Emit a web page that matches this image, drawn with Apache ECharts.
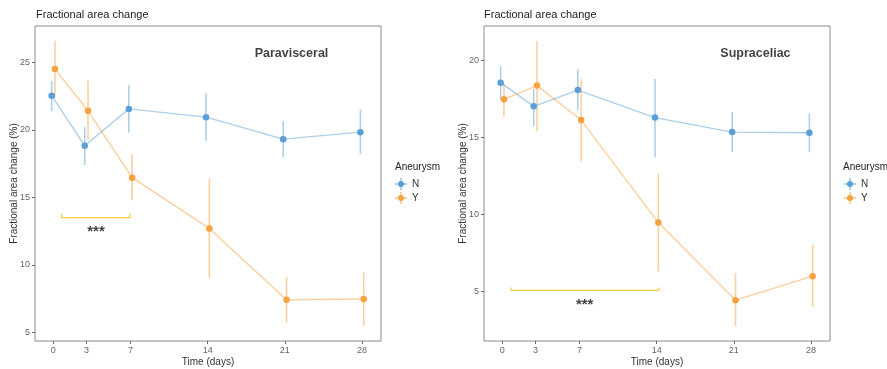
<!DOCTYPE html>
<html>
<head>
<meta charset="utf-8">
<script src="https://cdn.jsdelivr.net/npm/echarts@6/dist/echarts.min.js"></script>
<style>
  html, body { margin: 0; padding: 0; background: #ffffff; }
  #chart { width: 887px; height: 369px; }
</style>
</head>
<body>
<div id="chart"></div>
<script>
// Time points (days)
const days = [0, 3, 7, 14, 21, 28];
const dayTicks = [0, 3, 7, 14, 21, 28];

// Paravisceral: mean and error-bar limits per group
const paraN   = [22.53, 18.82, 21.55, 20.94, 19.31, 19.83];
const paraNLo = [21.40, 17.40, 19.80, 19.20, 17.98, 18.22];
const paraNHi = [23.60, 20.20, 23.30, 22.70, 20.64, 21.50];
const paraY   = [24.50, 21.41, 16.46, 12.70, 7.41, 7.47];
const paraYLo = [22.40, 19.24, 14.78, 9.04, 5.71, 5.47];
const paraYHi = [26.60, 23.65, 18.19, 16.36, 9.10, 9.44];

// Supraceliac: mean and error-bar limits per group
const supraN   = [18.57, 17.03, 18.09, 16.30, 15.36, 15.32];
const supraNLo = [17.49, 15.73, 16.77, 13.73, 14.06, 14.06];
const supraNHi = [19.65, 18.18, 19.44, 18.80, 16.66, 16.56];
const supraY   = [17.49, 18.38, 16.14, 9.48, 4.44, 6.00];
const supraYLo = [16.36, 15.43, 13.46, 6.30, 2.76, 4.00];
const supraYHi = [18.50, 21.27, 18.79, 12.66, 6.21, 8.05];

// Y tick labels per panel
const paraTicks = [5, 10, 15, 20, 25];
const supraTicks = [5, 10, 15, 20];

// Significance brackets: [start day, end day, bar level, tick top], label position [day, value]
const paraBracket = [0.76, 6.96, 13.5, 13.8];
const paraStars = [3.87, 12.55];
const supraBracket = [0.78, 14.2, 5.08, 5.26];
const supraStars = [7.47, 4.18];

// Panel headings placed in data coordinates
const paraHeading = [21.6, 25.67, 'Paravisceral'];
const supraHeading = [22.96, 20.45, 'Supraceliac'];

const groups = ['N', 'Y'];
const DODGE = 0.15;
const BLUE = '#5b9fd8';
const ORANGE = '#f7a23e';
const BLUE_SOFT = 'rgba(91,159,216,0.5)';
const ORANGE_SOFT = 'rgba(247,162,62,0.5)';
const FONT = '"Liberation Sans", Arial, sans-serif';

function pts(vals, off) { return days.map((d, i) => [d + off, vals[i]]); }
function bars(lo, hi, off) { return days.map((d, i) => [d + off, lo[i], hi[i]]); }

function errorSeries(idx, data, color) {
  return {
    type: 'custom', xAxisIndex: idx, yAxisIndex: idx, silent: true, z: 2,
    data: data,
    encode: { x: 0, y: [1, 2] },
    renderItem: function (params, api) {
      const a = api.coord([api.value(0), api.value(1)]);
      const b = api.coord([api.value(0), api.value(2)]);
      return { type: 'line', shape: { x1: a[0], y1: a[1], x2: b[0], y2: b[1] },
               style: { stroke: color, lineWidth: 1.6 } };
    }
  };
}
function lineSeries(idx, name, data, color, soft) {
  return {
    type: 'line', name: name, xAxisIndex: idx, yAxisIndex: idx, z: 3,
    data: data, symbol: 'circle', symbolSize: 6.5, showSymbol: true,
    itemStyle: { color: color, opacity: 1 },
    lineStyle: { color: soft, width: 1.4 },
    emphasis: { disabled: true }
  };
}
function bracketSeries(idx, br) {
  return {
    type: 'line', xAxisIndex: idx, yAxisIndex: idx, symbol: 'none', silent: true, z: 1,
    data: [[br[0], br[3]], [br[0], br[2]], [br[1], br[2]], [br[1], br[3]]],
    lineStyle: { color: '#f8c93f', width: 1.2 }
  };
}
function textSeries(idx, pos, text, size, weight, offset) {
  return {
    type: 'scatter', xAxisIndex: idx, yAxisIndex: idx, symbolSize: 0, silent: true,
    data: [[pos[0], pos[1]]],
    label: { show: true, position: 'inside', formatter: text, color: '#111',
             fontFamily: FONT, fontSize: size, fontWeight: weight, offset: offset || [0, 0] }
  };
}

function xAxis(idx) {
  return {
    type: 'value', gridIndex: idx, min: -1.66, max: 29.72,
    name: 'Time (days)', nameLocation: 'middle', nameGap: 16, nameMoveOverlap: false,
    nameTextStyle: { color: '#333', fontSize: 10, fontFamily: FONT },
    axisLine: { show: false, onZero: false },
    axisTick: { show: true, length: 3, customValues: dayTicks, lineStyle: { color: '#666' } },
    axisLabel: { customValues: dayTicks, color: '#666', fontSize: 9, margin: 5, fontFamily: FONT },
    splitLine: { show: false }
  };
}
function yAxis(idx, min, max, ticks) {
  return {
    type: 'value', gridIndex: idx, min: min, max: max,
    name: 'Fractional area change (%)', nameLocation: 'middle', nameGap: 16, nameMoveOverlap: false,
    nameTextStyle: { color: '#333', fontSize: 10, fontFamily: FONT },
    axisLine: { show: false, onZero: false },
    axisTick: { show: true, length: 3, customValues: ticks, lineStyle: { color: '#666' } },
    axisLabel: { customValues: ticks, color: '#666', fontSize: 9, margin: 5, fontFamily: FONT },
    splitLine: { show: false }
  };
}
// Legend key: point with a horizontal line and a vertical error bar through it
const KEY_ICON = 'path://M0,5.5h3v1h-3z M9,5.5h3v1h-3z M5.5,0h1v3h-1z M5.5,9h1v3h-1z M3,6a3,3 0 1,0 6,0a3,3 0 1,0 -6,0z';
function legend(left) {
  return {
    left: left, top: 178, padding: 0, orient: 'vertical', itemWidth: 12, itemHeight: 12, itemGap: 2,
    data: groups.map(g => ({ name: g, icon: KEY_ICON })),
    textStyle: { color: '#333', fontSize: 10, fontFamily: FONT },
    selectedMode: false
  };
}
function heading(text, left, top, size) {
  return { text: text, left: left, top: top, padding: 0,
           textStyle: { fontSize: size, fontWeight: 'normal', color: '#222', fontFamily: FONT } };
}

const chart = echarts.init(document.getElementById('chart'), null, { renderer: 'canvas' });
chart.setOption({
  animation: false,
  color: [BLUE, ORANGE],
  title: [
    heading('Fractional area change', 36, 9, 11),
    heading('Fractional area change', 484, 9, 11),
    heading('Aneurysm', 395, 162, 10),
    heading('Aneurysm', 843, 162, 10)
  ],
  legend: [legend(395), legend(844)],
  grid: [
    { left: 35, top: 26, width: 346, height: 315, show: true, borderColor: '#8c8c8c', borderWidth: 1,
      outerBoundsMode: 'none', containLabel: false },
    { left: 484, top: 26, width: 346, height: 315, show: true, borderColor: '#8c8c8c', borderWidth: 1,
      outerBoundsMode: 'none', containLabel: false }
  ],
  xAxis: [xAxis(0), xAxis(1)],
  yAxis: [yAxis(0, 4.36, 27.69, paraTicks), yAxis(1, 1.79, 22.25, supraTicks)],
  series: [
    errorSeries(0, bars(paraNLo, paraNHi, -DODGE), BLUE_SOFT),
    errorSeries(0, bars(paraYLo, paraYHi, DODGE), ORANGE_SOFT),
    lineSeries(0, 'N', pts(paraN, -DODGE), BLUE, BLUE_SOFT),
    lineSeries(0, 'Y', pts(paraY, DODGE), ORANGE, ORANGE_SOFT),
    bracketSeries(0, paraBracket),
    textSeries(0, paraStars, '***', 15, 'bold', [0, 1]),
    textSeries(0, paraHeading, paraHeading[2], 12.5, 'bold'),

    errorSeries(1, bars(supraNLo, supraNHi, -DODGE), BLUE_SOFT),
    errorSeries(1, bars(supraYLo, supraYHi, DODGE), ORANGE_SOFT),
    lineSeries(1, 'N', pts(supraN, -DODGE), BLUE, BLUE_SOFT),
    lineSeries(1, 'Y', pts(supraY, DODGE), ORANGE, ORANGE_SOFT),
    bracketSeries(1, supraBracket),
    textSeries(1, supraStars, '***', 15, 'bold', [0, 1]),
    textSeries(1, supraHeading, supraHeading[2], 12.5, 'bold')
  ]
});
</script>
</body>
</html>
